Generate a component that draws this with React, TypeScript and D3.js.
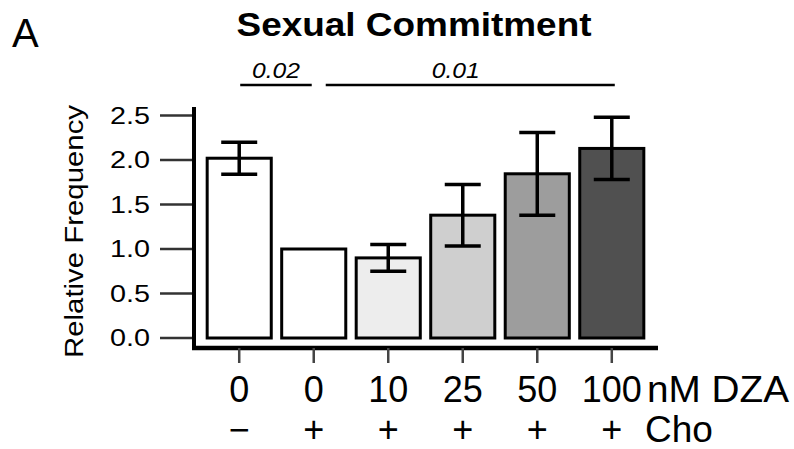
import React from "react";
import * as d3 from "d3";

const doses = ["0", "0", "10", "25", "50", "100"];
const choLabels = ["\u2212", "+", "+", "+", "+", "+"];
const means = [2.02, 1.0, 0.9, 1.38, 1.845, 2.13];
const errors = [0.18, 0, 0.15, 0.345, 0.465, 0.35];
const fills = ["#ffffff", "#ffffff", "#ededed", "#cfcfcf", "#9d9d9d", "#505050"];
const yTicks = [0, 0.5, 1, 1.5, 2, 2.5];
const brackets = [
  { from: 0, to: 1, label: "0.02" },
  { from: 1, to: 5, label: "0.01" },
];

const W = 794;
const H = 449;
const FONT = "'Liberation Sans', Arial, Helvetica, sans-serif";

const App = () => {
  const x = d3
    .scaleBand<number>()
    .domain(d3.range(means.length))
    .range([196, 655])
    .paddingInner(0.14)
    .paddingOuter(0.15);

  const y = d3.scaleLinear().domain([0, 2.5]).range([338, 115.5]);

  const cx = (i: number) => (x(i) as number) + x.bandwidth() / 2;
  const spineX = 194;
  const baseY = 348;

  return (
    <svg
      width={W}
      height={H}
      style={{ position: "absolute", left: 0, top: 0, background: "#fff" }}
      fontFamily={FONT}
    >
      <text x={12} y={47} fontSize={40}>A</text>
      <text x={414} y={36} fontSize={34} fontWeight="bold" textAnchor="middle"
        textLength={355} lengthAdjust="spacingAndGlyphs">
        Sexual Commitment
      </text>

      {/* significance lines */}
      {brackets.map((b, k) => {
        const x1 = k === 0 ? cx(b.from) + 1 : cx(b.from) + 12;
        const x2 = k === 0 ? cx(b.to) - 2 : cx(b.to) + 3;
        const mid = k === 0 ? (x1 + x2) / 2 : (cx(b.from) + cx(b.to)) / 2 - 7;
        return (
          <g key={k}>
            <line x1={x1} x2={x2} y1={85} y2={85} stroke="#000" strokeWidth={2.5} />
            <text x={mid} y={78} fontSize={22} fontStyle="italic" textAnchor="middle"
              textLength={48} lengthAdjust="spacingAndGlyphs">
              {b.label}
            </text>
          </g>
        );
      })}

      {/* y axis */}
      <text
        transform={`translate(83, ${(105 + 358) / 2}) rotate(-90)`}
        fontSize={26}
        textAnchor="middle"
        textLength={253}
        lengthAdjust="spacingAndGlyphs"
      >
        Relative Frequency
      </text>
      {yTicks.map((t) => (
        <g key={t}>
          <line x1={160} x2={spineX} y1={y(t)} y2={y(t)} stroke="#333" strokeWidth={2.5} />
          <text x={150} y={y(t) + 8.3} fontSize={23.5} textAnchor="end"
            textLength={40} lengthAdjust="spacingAndGlyphs">
            {d3.format(".1f")(t)}
          </text>
        </g>
      ))}
      <line x1={spineX} x2={spineX} y1={107} y2={baseY + 2} stroke="#000" strokeWidth={4} />
      <line x1={spineX - 2} x2={658} y1={baseY} y2={baseY} stroke="#000" strokeWidth={4.5} />

      {/* bars */}
      {means.map((m, i) => (
        <rect
          key={i}
          x={x(i)}
          y={y(m)}
          width={x.bandwidth()}
          height={y(0) - y(m)}
          fill={fills[i]}
          stroke="#000"
          strokeWidth={3}
        />
      ))}

      {/* error bars */}
      {means.map((m, i) =>
        errors[i] > 0 ? (
          <g key={i} stroke="#000" strokeWidth={3.5}>
            <line x1={cx(i)} x2={cx(i)} y1={y(m + errors[i])} y2={y(m - errors[i])} />
            <line x1={cx(i) - 18} x2={cx(i) + 18} y1={y(m + errors[i])} y2={y(m + errors[i])} />
            <line x1={cx(i) - 18} x2={cx(i) + 18} y1={y(m - errors[i])} y2={y(m - errors[i])} />
          </g>
        ) : null
      )}

      {/* x ticks and labels */}
      {doses.map((d, i) => (
        <g key={i}>
          <line x1={cx(i)} x2={cx(i)} y1={baseY} y2={363} stroke="#444" strokeWidth={2.5} />
          <text x={cx(i)} y={402} fontSize={36} textAnchor="middle">{d}</text>
          <text x={cx(i)} y={442} fontSize={36} textAnchor="middle">{choLabels[i]}</text>
        </g>
      ))}
      <text x={647} y={402} fontSize={36} textLength={142} lengthAdjust="spacingAndGlyphs">
        nM DZA
      </text>
      <text x={645} y={442} fontSize={37}>Cho</text>
    </svg>
  );
};

export default App;
